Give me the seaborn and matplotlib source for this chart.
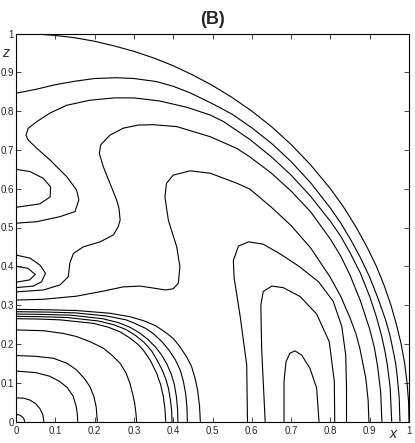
import pandas as pd
import matplotlib
matplotlib.use("Agg")
import matplotlib.pyplot as plt
import seaborn as sns

# contour lines, (x, z) pairs, domain is the quarter disc
outer_circle = [(0, 1), (0.05, 0.999), (0.1, 0.995), (0.15, 0.989), (0.2, 0.98), (0.25, 0.968),
                (0.3, 0.954), (0.35, 0.937), (0.4, 0.917), (0.45, 0.893), (0.5, 0.866), (0.55, 0.835),
                (0.6, 0.8), (0.65, 0.76), (0.7, 0.714), (0.75, 0.661), (0.8, 0.6), (0.834, 0.552),
                (0.866, 0.5), (0.894, 0.448), (0.917, 0.4), (0.937, 0.35), (0.954, 0.3),
                (0.968, 0.25), (0.98, 0.2), (0.989, 0.15), (0.995, 0.1), (0.999, 0.05), (1, 0)]
level_1 = [(0, 0.846), (0.05, 0.856), (0.1, 0.868), (0.15, 0.877), (0.2, 0.884), (0.256, 0.886),
           (0.3, 0.884), (0.358, 0.876), (0.4, 0.864), (0.443, 0.847), (0.5, 0.819), (0.55, 0.792),
           (0.6, 0.757), (0.65, 0.717), (0.7, 0.670), (0.75, 0.615), (0.8, 0.550), (0.826, 0.512),
           (0.85, 0.4715), (0.876, 0.423), (0.9, 0.372), (0.922, 0.315), (0.94, 0.263),
           (0.952, 0.22), (0.96, 0.181), (0.966, 0.15), (0.97, 0.117), (0.975, 0.062), (0.977, 0)]
level_2 = [(0, 0.511), (0.053, 0.515), (0.112, 0.528), (0.15, 0.541), (0.16, 0.571), (0.154, 0.597),
           (0.129, 0.631), (0.0865, 0.674), (0.053, 0.704), (0.031, 0.7255), (0.0254, 0.738),
           (0.031, 0.7556), (0.053, 0.773), (0.0865, 0.795), (0.129, 0.815), (0.188, 0.828),
           (0.25, 0.834), (0.3, 0.834), (0.366, 0.826), (0.434, 0.81), (0.494, 0.79), (0.528, 0.773),
           (0.595, 0.727), (0.65, 0.682), (0.7, 0.635), (0.75, 0.580), (0.8, 0.516), (0.826, 0.478),
           (0.85, 0.435), (0.876, 0.383), (0.9, 0.322), (0.917, 0.27), (0.93, 0.222),
           (0.939, 0.18), (0.945, 0.145), (0.952, 0.088), (0.956, 0)]
level_3 = [(0, 0.334), (0.07, 0.339), (0.112, 0.352), (0.133, 0.373), (0.137, 0.408), (0.146, 0.433),
           (0.171, 0.45), (0.214, 0.463), (0.248, 0.481), (0.26, 0.502), (0.265, 0.519), (0.262, 0.55),
           (0.256, 0.571), (0.239, 0.614), (0.222, 0.657), (0.212, 0.691), (0.2155, 0.713),
           (0.239, 0.738), (0.273, 0.756), (0.311, 0.764), (0.349, 0.765), (0.409, 0.760),
           (0.494, 0.734), (0.5616, 0.704), (0.595, 0.682), (0.65, 0.640), (0.7, 0.594), (0.75, 0.540),
           (0.8, 0.470), (0.826, 0.427), (0.85, 0.377), (0.876, 0.312), (0.9, 0.238),
           (0.912, 0.19), (0.92, 0.143), (0.928, 0.075), (0.931, 0)]
level_4 = [(0, 0.313), (0.07, 0.315), (0.154, 0.323), (0.222, 0.336), (0.273, 0.347), (0.316, 0.349),
           (0.349, 0.344), (0.38, 0.339), (0.4, 0.342), (0.413, 0.356), (0.417, 0.399), (0.409, 0.45),
           (0.3876, 0.519), (0.379, 0.579), (0.383, 0.614), (0.40, 0.635), (0.443, 0.646),
           (0.494, 0.64), (0.562, 0.614), (0.595, 0.599), (0.65, 0.552), (0.7, 0.505), (0.75, 0.447),
           (0.8, 0.371), (0.826, 0.323), (0.85, 0.267), (0.865, 0.226), (0.875, 0.188),
           (0.89, 0.112), (0.896, 0.055), (0.898, 0)]
arch_5 = [(0.589, 0), (0.587, 0.146), (0.57, 0.274), (0.555, 0.37), (0.553, 0.415), (0.566, 0.452),
          (0.592, 0.463), (0.629, 0.457), (0.672, 0.432), (0.72, 0.4), (0.77, 0.36), (0.807, 0.31),
          (0.829, 0.245), (0.839, 0.171), (0.841, 0.086), (0.841, 0)]
arch_6 = [(0.634, 0), (0.625, 0.189), (0.623, 0.30), (0.629, 0.335), (0.651, 0.349), (0.68, 0.345),
          (0.723, 0.322), (0.765, 0.277), (0.797, 0.206), (0.81, 0.103), (0.811, 0)]
arch_7 = [(0.682, 0), (0.682, 0.103), (0.687, 0.154), (0.697, 0.176), (0.71, 0.182), (0.727, 0.171),
          (0.748, 0.137), (0.765, 0.086), (0.771, 0)]
bump_upper = [(0, 0.65), (0.036, 0.644), (0.069, 0.627), (0.088, 0.605), (0.087, 0.579), (0.061, 0.561),
              (0, 0.552)]
bump_lower_out = [(0, 0.429), (0.036, 0.421), (0.061, 0.403), (0.075, 0.382), (0.065, 0.36),
                  (0.044, 0.349), (0, 0.345)]
bump_lower_in = [(0, 0.40), (0.03, 0.395), (0.049, 0.379), (0.035, 0.365), (0, 0.359)]
band_1 = [(0, 0.289), (0.08, 0.288), (0.154, 0.286), (0.239, 0.279), (0.29, 0.27), (0.324, 0.26),
          (0.355, 0.247), (0.38, 0.23), (0.4, 0.214), (0.417, 0.193), (0.435, 0.165), (0.447, 0.141),
          (0.456, 0.11), (0.462, 0.081), (0.467, 0.04), (0.469, 0)]
band_2 = [(0, 0.283), (0.08, 0.282), (0.15, 0.28), (0.23, 0.272), (0.28, 0.262), (0.30, 0.254),
          (0.33, 0.24), (0.35, 0.226), (0.372, 0.205), (0.39, 0.183), (0.406, 0.158), (0.418, 0.132),
          (0.426, 0.103), (0.432, 0.07), (0.435, 0.035), (0.436, 0)]
band_3 = [(0, 0.277), (0.07, 0.276), (0.14, 0.274), (0.22, 0.265), (0.26, 0.255), (0.29, 0.243),
          (0.315, 0.228), (0.335, 0.212), (0.355, 0.192), (0.37, 0.172), (0.384, 0.148),
          (0.395, 0.122), (0.403, 0.095), (0.408, 0.065), (0.411, 0.033), (0.412, 0)]
band_4 = [(0, 0.271), (0.07, 0.27), (0.13, 0.268), (0.21, 0.259), (0.25, 0.249), (0.28, 0.237),
          (0.305, 0.221), (0.327, 0.203), (0.345, 0.182), (0.358, 0.16), (0.371, 0.135),
          (0.381, 0.11), (0.388, 0.085), (0.393, 0.055), (0.396, 0.028), (0.397, 0)]
band_5 = [(0, 0.265), (0.06, 0.264), (0.112, 0.262), (0.197, 0.253), (0.235, 0.243), (0.265, 0.231),
          (0.29, 0.215), (0.31, 0.199), (0.324, 0.184), (0.342, 0.157), (0.358, 0.124),
          (0.368, 0.095), (0.375, 0.064), (0.379, 0.032), (0.381, 0)]
core_1 = [(0, 0.236), (0.07, 0.234), (0.12, 0.227), (0.154, 0.219), (0.19, 0.205), (0.222, 0.189),
          (0.245, 0.17), (0.265, 0.15), (0.28, 0.125), (0.29, 0.098), (0.297, 0.07), (0.302, 0.047),
          (0.305, 0.023), (0.307, 0)]
core_2 = [(0, 0.17), (0.05, 0.168), (0.095, 0.163), (0.13, 0.15), (0.154, 0.133), (0.173, 0.112),
          (0.188, 0.09), (0.198, 0.065), (0.204, 0.038), (0.207, 0)]
core_3 = [(0, 0.13), (0.05, 0.126), (0.085, 0.117), (0.11, 0.104), (0.13, 0.088), (0.145, 0.066),
          (0.153, 0.04), (0.156, 0.02), (0.157, 0)]
core_4 = [(0, 0.061), (0.02, 0.06), (0.036, 0.055), (0.05, 0.046), (0.061, 0.033), (0.068, 0.018),
          (0.071, 0)]
core_5 = [(0, 0.018), (0.008, 0.017), (0.015, 0.013), (0.02, 0.007), (0.022, 0)]

contours = {
    "outer_circle": outer_circle, "level_1": level_1, "level_2": level_2, "level_3": level_3,
    "level_4": level_4, "arch_5": arch_5, "arch_6": arch_6, "arch_7": arch_7,
    "bump_upper": bump_upper, "bump_lower_out": bump_lower_out, "bump_lower_in": bump_lower_in,
    "band_1": band_1, "band_2": band_2, "band_3": band_3, "band_4": band_4, "band_5": band_5,
    "core_1": core_1, "core_2": core_2, "core_3": core_3, "core_4": core_4, "core_5": core_5,
}

tick_values = [0, 0.1, 0.2, 0.3, 0.4, 0.5, 0.6, 0.7, 0.8, 0.9, 1]
tick_labels = ["0", "0.1", "0.2", "0.3", "0.4", "0.5", "0.6", "0.7", "0.8", "0.9", "1"]

# long table for seaborn, one unit per contour line
rows = []
for name, pts in contours.items():
    for i, (x, z) in enumerate(pts):
        rows.append({"curve": name, "order": i, "x": x, "z": z})
df = pd.DataFrame(rows)

sns.set_style("ticks", {"xtick.direction": "in", "ytick.direction": "in"})
plt.rcParams["font.family"] = ["Liberation Sans", "DejaVu Sans"]

fig = plt.figure(figsize=(4.15, 4.43), dpi=100)
ax = fig.add_axes([16 / 415, 1 - 421.5 / 443, 393 / 415, 388 / 443])

sns.lineplot(data=df, x="x", y="z", units="curve", estimator=None, sort=False,
             color="black", linewidth=0.8, ax=ax, legend=False)

ax.set_xlim(0, 1)
ax.set_ylim(0, 1)
ax.set_xticks(tick_values)
ax.set_xticklabels(tick_labels)
ax.set_yticks(tick_values)
ax.set_yticklabels(tick_labels)
ax.tick_params(top=True, right=True, direction="in", length=3.6, width=0.6,
               labelsize=7, pad=1.5)
ax.tick_params(axis="x", pad=3)
for sp in ax.spines.values():
    sp.set_linewidth(0.8)
    sp.set_color("black")
ax.set_xlabel("")
ax.set_ylabel("")

ax.text(0.96, -0.031, "x", transform=ax.transAxes, ha="center", va="center",
        fontsize=10, style="italic")
ax.text(-0.027, 0.949, "z", transform=ax.transAxes, ha="center", va="center",
        fontsize=10, style="italic")
ax.set_title("(B)", fontsize=13, fontweight="bold", pad=7)

fig.savefig("out.png", dpi=100)
